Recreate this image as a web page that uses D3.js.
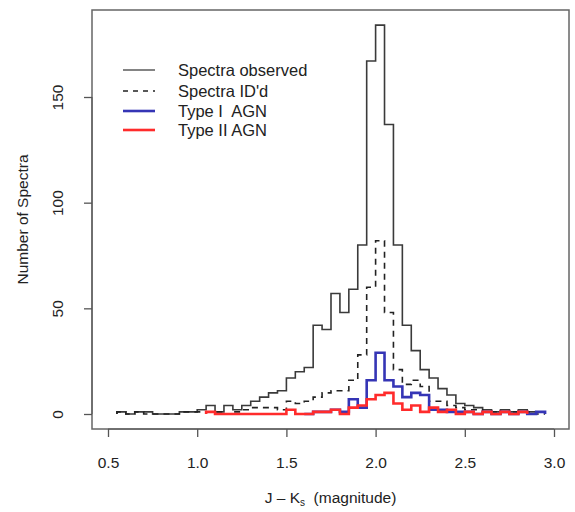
<!DOCTYPE html>
<html>
<head>
<meta charset="utf-8">
<script src="https://cdn.jsdelivr.net/npm/d3@7"></script>
<style>
  body { margin: 0; background: #fff; }
  text { font-family: "Liberation Sans", Arial, sans-serif; fill: #222; }
</style>
</head>
<body>
<div id="chart"></div>
<script>
// bin edges of the J-Ks histogram (width 0.05)
const binEdges = [0.55, 0.60, 0.65, 0.70, 0.75, 0.80, 0.85, 0.90, 0.95, 1.00,
  1.05, 1.10, 1.15, 1.20, 1.25, 1.30, 1.35, 1.40, 1.45, 1.50,
  1.55, 1.60, 1.65, 1.70, 1.75, 1.80, 1.85, 1.90, 1.95, 2.00,
  2.05, 2.10, 2.15, 2.20, 2.25, 2.30, 2.35, 2.40, 2.45, 2.50,
  2.55, 2.60, 2.65, 2.70, 2.75, 2.80, 2.85, 2.90, 2.95];

// counts per bin (null = series not drawn there)
const observed = [1, 0, 1, 1, 0, 0, 0, 1, 1, 2,
  4, 1, 4, 2, 4, 6, 8, 10, 11, 17,
  20, 22, 42, 40, 57, 48, 59, 80, 167, 184,
  137, 80, 42, 30, 21, 17, 12, 9, 5, 4,
  3, 2, 1, 2, 1, 2, 1, 1];
const identified = [1, 0, 1, 0, 0, 0, 0, 1, 1, 1,
  1, 1, 0, 1, 2, 3, 3, 3, 2, 6,
  5, 6, 8, 10, 11, 11, 16, 28, 60, 82,
  48, 21, 14, 16, 13, 6, 6, 4, 3, 2,
  2, 1, 1, 1, 1, 1, 1, 0];
const typeOne = [null, null, null, null, null, null, null, null, null, null,
  null, null, null, null, null, null, null, null, null, null,
  null, 0, 1, 1, 2, 1, 7, 3, 16, 29,
  16, 13, 8, 10, 9, 2, 2, 1, 1, 1,
  0, 1, 0, 1, 0, 1, 0, 1];
const typeTwo = [null, null, null, null, null, null, null, null, null, null,
  1, 0, 0, 0, 0, 0, 0, 0, 0, 2,
  0, 0, 1, 1, 2, 0, 3, 4, 7, 9,
  10, 5, 2, 4, 1, 3, 1, 2, 0, 1,
  0, 1, 0, 1, 0, 1, null, null];

const xTicks = [0.5, 1.0, 1.5, 2.0, 2.5, 3.0];
const yTicks = [0, 50, 100, 150];

const series = [
  { name: "Spectra observed", values: observed, color: "#3a3a3a", width: 1.6, dash: null, legendColor: "#666" },
  { name: "Spectra ID'd", values: identified, color: "#222", width: 1.6, dash: "6,5", legendColor: "#222" },
  { name: "Type I  AGN", values: typeOne, color: "#3535b5", width: 2.6, dash: null, legendColor: "#3535b5" },
  { name: "Type II AGN", values: typeTwo, color: "#ff2b2b", width: 2.6, dash: null, legendColor: "#ff2b2b" }
];

const width = 575, height = 512;
const box = { left: 92, right: 569, top: 10, bottom: 429 };

const svg = d3.select("#chart").append("svg")
  .attr("width", width)
  .attr("height", height);

const x = d3.scaleLinear().domain([0.5, 3.0]).range([108, 554]);
const y = d3.scaleLinear().domain([0, 150]).range([414, 97]);

// step outline for each series
function stepPoints(values) {
  const pts = [];
  let started = false;
  values.forEach((v, i) => {
    if (v == null) {
      if (started) { pts.push([binEdges[i], 0]); started = false; }
      return;
    }
    if (!started) { pts.push([binEdges[i], 0]); started = true; }
    pts.push([binEdges[i], v]);
    pts.push([binEdges[i + 1], v]);
  });
  if (started) pts.push([binEdges[values.length], 0]);
  return pts;
}

const line = d3.line().x(d => x(d[0])).y(d => y(d[1]));

svg.append("g").selectAll("path")
  .data(series)
  .enter()
  .append("path")
  .attr("d", d => line(stepPoints(d.values)))
  .attr("fill", "none")
  .attr("stroke", d => d.color)
  .attr("stroke-width", d => d.width)
  .attr("stroke-dasharray", d => d.dash)
  .attr("stroke-linejoin", "miter");

// frame
svg.append("rect")
  .attr("x", box.left)
  .attr("y", box.top)
  .attr("width", box.right - box.left)
  .attr("height", box.bottom - box.top)
  .attr("fill", "none")
  .attr("stroke", "#666")
  .attr("stroke-width", 1.5);

// x axis
const xAxis = svg.append("g")
  .attr("transform", `translate(0,${box.bottom})`)
  .call(d3.axisBottom(x).tickValues(xTicks).tickSize(8).tickSizeOuter(0).tickFormat(d3.format(".1f")));
xAxis.select(".domain").attr("stroke", "#555").attr("d", `M${x(0.5)},0H${x(3.0)}`);
xAxis.selectAll(".tick line").attr("stroke", "#555").attr("stroke-width", 1.3);
xAxis.selectAll(".tick text")
  .attr("y", 33)
  .attr("dy", null)
  .attr("dominant-baseline", "central")
  .attr("font-size", 15.5)
  .attr("font-family", "Liberation Sans, Arial, sans-serif")
  .attr("fill", "#222");

// y axis
const yAxis = svg.append("g")
  .attr("transform", `translate(${box.left},0)`)
  .call(d3.axisLeft(y).tickValues(yTicks).tickSize(8).tickSizeOuter(0));
yAxis.select(".domain").attr("stroke", "#555").attr("d", `M0,${y(0)}V${y(150)}`);
yAxis.selectAll(".tick line").attr("stroke", "#555").attr("stroke-width", 1.3);
yAxis.selectAll(".tick text")
  .attr("x", null).attr("dy", null)
  .attr("transform", "translate(-35,0) rotate(-90)")
  .attr("text-anchor", "middle")
  .attr("dominant-baseline", "central")
  .attr("font-size", 15.5)
  .attr("font-family", "Liberation Sans, Arial, sans-serif")
  .attr("fill", "#222");

// axis titles
const xTitle = svg.append("text")
  .attr("x", (box.left + box.right) / 2)
  .attr("y", 503)
  .attr("text-anchor", "middle")
  .attr("font-size", 15.5)
  .attr("xml:space", "preserve");
xTitle.append("tspan").text("J \u2013 K");
xTitle.append("tspan").attr("font-size", 10).attr("dy", 3).text("s");
xTitle.append("tspan").attr("dy", -3).text("  (magnitude)");

svg.append("text")
  .attr("transform", `translate(22,${(box.top + box.bottom) / 2}) rotate(-90)`)
  .attr("text-anchor", "middle")
  .attr("dominant-baseline", "central")
  .attr("font-size", 15.5)
  .text("Number of Spectra");

// legend
const legend = svg.append("g");
const rowY = [70, 91, 111, 130];
series.forEach((s, i) => {
  legend.append("line")
    .attr("x1", 123).attr("x2", 155)
    .attr("y1", rowY[i]).attr("y2", rowY[i])
    .attr("stroke", s.legendColor)
    .attr("stroke-width", s.width)
    .attr("stroke-dasharray", s.dash ? "5,5" : null);
  legend.append("text")
    .attr("x", 178)
    .attr("y", rowY[i])
    .attr("dominant-baseline", "central")
    .attr("font-size", 16.5)
    .attr("xml:space", "preserve")
    .text(s.name);
});
</script>
</body>
</html>
